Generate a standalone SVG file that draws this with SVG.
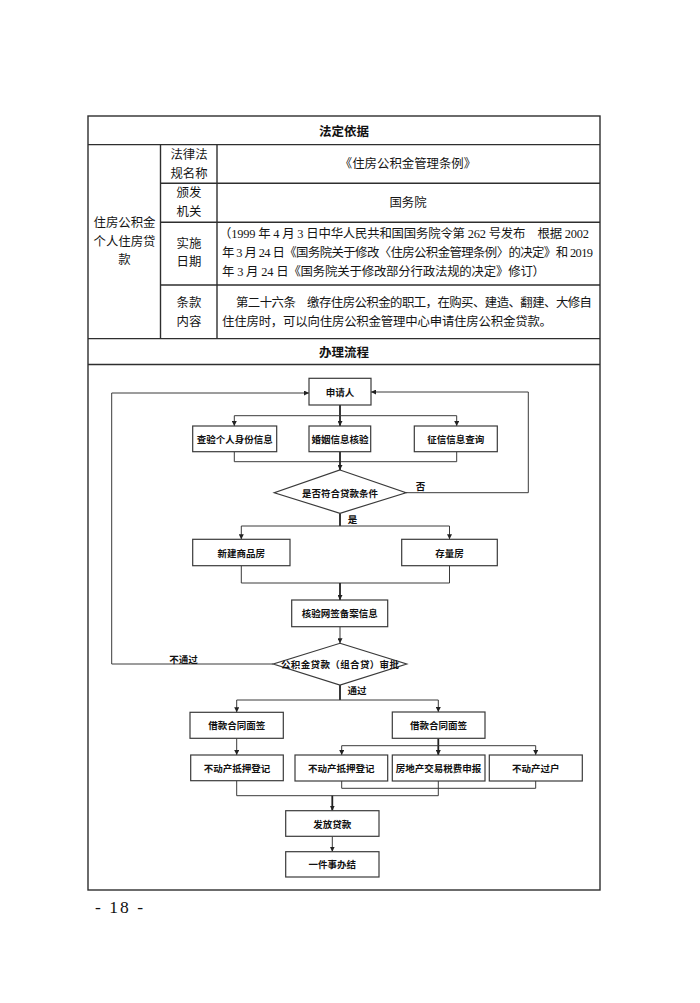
<svg xmlns="http://www.w3.org/2000/svg" width="700" height="1003" viewBox="0 0 700 1003">
<defs>
<style>
.tl{stroke:#2e2e2e;stroke-width:1.4;fill:none}
.t{font-family:"Liberation Serif","Noto Sans CJK SC",serif;font-size:12.4px;fill:#151515;dominant-baseline:central}
.h{font-family:"Noto Sans CJK SC",sans-serif;font-size:12.5px;font-weight:bold;fill:#111;dominant-baseline:central;text-anchor:middle}
.c{text-anchor:middle}
.bx{fill:#fff;stroke:#3a3a3a;stroke-width:1.2}
.ft{font-family:"Noto Sans CJK SC",sans-serif;font-size:9.5px;font-weight:bold;fill:#111;dominant-baseline:central;text-anchor:middle}
.ln{stroke:#3a3a3a;stroke-width:1;fill:none}
.thk{stroke:#222;stroke-width:1.8;fill:none}
</style>
<marker id="arr" viewBox="0 0 10 10" refX="10" refY="5" markerWidth="5" markerHeight="5" markerUnits="userSpaceOnUse" orient="auto"><path d="M0,0 L10,5 L0,10 z" fill="#222"/></marker>
</defs>
<rect width="700" height="1003" fill="#fff"/>

<g id="table">
<rect class="tl" x="88" y="116" width="512" height="774"/>
<line class="tl" x1="88" y1="144.6" x2="600" y2="144.6"/>
<line class="tl" x1="160.5" y1="183.3" x2="600" y2="183.3"/>
<line class="tl" x1="160.5" y1="222.3" x2="600" y2="222.3"/>
<line class="tl" x1="160.5" y1="285" x2="600" y2="285"/>
<line class="tl" x1="88" y1="338.6" x2="600" y2="338.6"/>
<line class="tl" x1="88" y1="364.5" x2="600" y2="364.5"/>
<line class="tl" x1="160.5" y1="144.6" x2="160.5" y2="338.6"/>
<line class="tl" x1="217" y1="144.6" x2="217" y2="338.6"/>
<text class="h" x="344" y="130.5">法定依据</text>
<text class="h" x="344" y="351.5">办理流程</text>
<text class="t c" x="124.5" y="223.4">住房公积金</text>
<text class="t c" x="124.5" y="241.6">个人住房贷</text>
<text class="t c" x="124.5" y="260">款</text>
<text class="t c" x="189" y="154.5">法律法</text>
<text class="t c" x="189" y="173.8">规名称</text>
<text class="t c" x="189" y="193.2">颁发</text>
<text class="t c" x="189" y="212.2">机关</text>
<text class="t c" x="189" y="243.5">实施</text>
<text class="t c" x="189" y="262.3">日期</text>
<text class="t c" x="189" y="303">条款</text>
<text class="t c" x="189" y="322">内容</text>
<text class="t c" x="408" y="164">《住房公积金管理条例》</text>
<text class="t c" x="408" y="202.5">国务院</text>
<text class="t" x="219" y="233.8" textLength="370" lengthAdjust="spacing">（1999 年 4 月 3 日中华人民共和国国务院令第 262 号发布　根据 2002</text>
<text class="t" x="222" y="252.8" textLength="371" lengthAdjust="spacing">年 3 月 24 日《国务院关于修改〈住房公积金管理条例〉的决定》和 2019</text>
<text class="t" x="222" y="271.8" textLength="323" lengthAdjust="spacing">年 3 月 24 日《国务院关于修改部分行政法规的决定》修订）</text>
<text class="t" x="236" y="303" textLength="356" lengthAdjust="spacing">第二十六条　缴存住房公积金的职工，在购买、建造、翻建、大修自</text>
<text class="t" x="222" y="322" textLength="330" lengthAdjust="spacing">住住房时，可以向住房公积金管理中心申请住房公积金贷款。</text>
</g>

<g id="connectors">
<line class="thk" x1="340" y1="405" x2="340" y2="426" marker-end="url(#arr)"/>
<line class="ln" x1="234.3" y1="415.7" x2="456.7" y2="415.7"/>
<line class="ln" x1="234.3" y1="415.7" x2="234.3" y2="426" marker-end="url(#arr)"/>
<line class="ln" x1="456.7" y1="415.7" x2="456.7" y2="426" marker-end="url(#arr)"/>
<path class="ln" d="M234.3,451.7 V461.7 H456.7 V451.7"/>
<line class="thk" x1="340" y1="451.7" x2="340" y2="470" marker-end="url(#arr)"/>
<path class="ln" d="M406,492.7 H528.3 V392 H371" marker-end="url(#arr)"/>
<line class="thk" x1="340" y1="513.3" x2="340" y2="526"/>
<line class="ln" x1="241.3" y1="526" x2="449.5" y2="526"/>
<line class="ln" x1="241.3" y1="526" x2="241.3" y2="539.3" marker-end="url(#arr)"/>
<line class="ln" x1="449.5" y1="526" x2="449.5" y2="539.3" marker-end="url(#arr)"/>
<path class="ln" d="M241.3,565.7 V583 H449.5 V565.7"/>
<line class="thk" x1="340" y1="583" x2="340" y2="600" marker-end="url(#arr)"/>
<line class="ln" x1="340" y1="626.7" x2="340" y2="643.3" marker-end="url(#arr)"/>
<path class="ln" d="M273.3,664 H111.7 V393 H309" marker-end="url(#arr)"/>
<line class="thk" x1="340" y1="685" x2="340" y2="700"/>
<line class="ln" x1="236.7" y1="700" x2="438.3" y2="700"/>
<line class="ln" x1="236.7" y1="700" x2="236.7" y2="712.3" marker-end="url(#arr)"/>
<line class="ln" x1="438.3" y1="700" x2="438.3" y2="712" marker-end="url(#arr)"/>
<line class="ln" x1="236.7" y1="738.3" x2="236.7" y2="755" marker-end="url(#arr)"/>
<line class="thk" x1="438.3" y1="738.3" x2="438.3" y2="755" marker-end="url(#arr)"/>
<line class="ln" x1="341.7" y1="745.7" x2="535.7" y2="745.7"/>
<line class="ln" x1="341.7" y1="745.7" x2="341.7" y2="755" marker-end="url(#arr)"/>
<line class="ln" x1="535.7" y1="745.7" x2="535.7" y2="755" marker-end="url(#arr)"/>
<path class="ln" d="M341.7,781 V788.3 H535.7 V781"/>
<path class="ln" d="M236.7,780.7 V795.7 H438.3 V781"/>
<line class="thk" x1="332.3" y1="795.7" x2="332.3" y2="810.7" marker-end="url(#arr)"/>
<line class="ln" x1="332.3" y1="836.3" x2="332.3" y2="851.7" marker-end="url(#arr)"/>
<text class="ft" x="420.5" y="485.5">否</text>
<text class="ft" x="352.5" y="518.5">是</text>
<text class="ft" x="183.5" y="658.5">不通过</text>
<text class="ft" x="357" y="690">通过</text>
</g>

<g id="n-applicant"><rect class="bx" x="309" y="378.3" width="62" height="26.7"/><text class="ft" x="340" y="392">申请人</text></g>
<g id="n-id"><rect class="bx" x="192.7" y="426" width="84" height="25.7"/><text class="ft" x="234.7" y="439">查验个人身份信息</text></g>
<g id="n-marriage"><rect class="bx" x="309" y="426" width="61.7" height="25.7"/><text class="ft" x="340" y="439">婚姻信息核验</text></g>
<g id="n-credit"><rect class="bx" x="414.3" y="426" width="83" height="25.7"/><text class="ft" x="455.8" y="439">征信信息查询</text></g>
<g id="n-cond"><polygon class="bx" points="340,470 406,492.7 340,513.3 274.3,492.7"/><text class="ft" x="340" y="492.5">是否符合贷款条件</text></g>
<g id="n-new"><rect class="bx" x="192.7" y="539.3" width="97.3" height="26.4"/><text class="ft" x="241.3" y="552.5">新建商品房</text></g>
<g id="n-stock"><rect class="bx" x="401.7" y="539.3" width="95.6" height="26.4"/><text class="ft" x="449.5" y="552.5">存量房</text></g>
<g id="n-verify"><rect class="bx" x="291.7" y="600" width="96" height="26.7"/><text class="ft" x="339.7" y="613.3">核验网签备案信息</text></g>
<g id="n-approve"><polygon class="bx" points="340,643.3 406.7,664 340,685 273.3,664"/><text class="ft" x="340" y="664" textLength="118" lengthAdjust="spacing">公积金贷款（组合贷）审批</text></g>
<g id="n-sign-l"><rect class="bx" x="190" y="712.3" width="93.3" height="26"/><text class="ft" x="236.7" y="725.3">借款合同面签</text></g>
<g id="n-sign-r"><rect class="bx" x="392.3" y="712" width="92.7" height="26.3"/><text class="ft" x="438.6" y="725.2">借款合同面签</text></g>
<g id="n-mort-l"><rect class="bx" x="190.7" y="755" width="92.6" height="25.7"/><text class="ft" x="237" y="768">不动产抵押登记</text></g>
<g id="n-mort-r"><rect class="bx" x="295" y="755" width="92.7" height="26"/><text class="ft" x="341.3" y="768">不动产抵押登记</text></g>
<g id="n-tax"><rect class="bx" x="392.3" y="755" width="92.7" height="26"/><text class="ft" x="438.6" y="767.5">房地产交易税费申报</text></g>
<g id="n-transfer"><rect class="bx" x="489.3" y="755" width="93" height="26"/><text class="ft" x="535.8" y="767.5">不动产过户</text></g>
<g id="n-loan"><rect class="bx" x="285.7" y="810.7" width="93.3" height="25.6"/><text class="ft" x="332.3" y="823.5">发放贷款</text></g>
<g id="n-done"><rect class="bx" x="285.7" y="851.7" width="93.3" height="25.3"/><text class="ft" x="332.3" y="864.3">一件事办结</text></g>

<text x="95" y="913" font-family="Liberation Serif, serif" font-size="17.5" fill="#111" textLength="48" lengthAdjust="spacing">- 18 -</text>
</svg>
